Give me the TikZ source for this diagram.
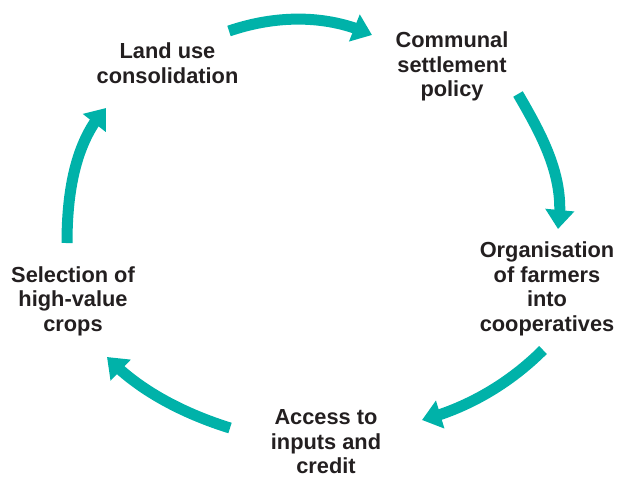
\documentclass[tikz,border=0pt]{standalone}
\usepackage{fontspec}
\setmainfont{Liberation Sans}
\usetikzlibrary{arrows.meta,bending}
\definecolor{teal1}{RGB}{0,178,169}
\definecolor{ink}{RGB}{35,31,32}
\begin{document}
\begin{tikzpicture}[x=1pt,y=-1pt,
  label/.style={align=center,inner sep=0pt,anchor=base,text=ink,
    font={\fontsize{21.8}{24.5}\selectfont\bfseries}},
  cyc/.style={draw=teal1,line width=11pt,
    -{Triangle[length=19pt,width=28pt,flex]}}]
\useasboundingbox (0,0) rectangle (618,477);
% base anchor = baseline of the last line
\node[label] (land) at (167.5,83) {Land use\\consolidation};
\node[label] (comm) at (452,96.5) {Communal\\settlement\\policy};
\node[label] (org) at (547,331) {Organisation\\of farmers\\into\\cooperatives};
\node[label] (acc) at (326,473.5) {Access to\\inputs and\\credit};
\node[label] (sel) at (73,331) {Selection of\\high-value\\crops};
\coordinate (t1) at (229,31);  \coordinate (h1) at (372,35);
\coordinate (t2) at (518,94);  \coordinate (h2) at (558,229);
\coordinate (t3) at (543,350); \coordinate (h3) at (422,420);
\coordinate (t4) at (230,428); \coordinate (h4) at (107,357);
\coordinate (t5) at (67,243);  \coordinate (h5) at (106,108);
\draw[cyc] (t1) .. controls (276,15) and (327,14) .. (h1);
\draw[cyc] (t2) .. controls (543,137) and (566.5,180) .. (h2);
\draw[cyc] (t3) .. controls (510,383) and (468,408) .. (h3);
\draw[cyc] (t4) .. controls (185,414) and (139,391) .. (h4);
\draw[cyc] (t5) .. controls (67,196) and (74,142) .. (h5);
\end{tikzpicture}
\end{document}
